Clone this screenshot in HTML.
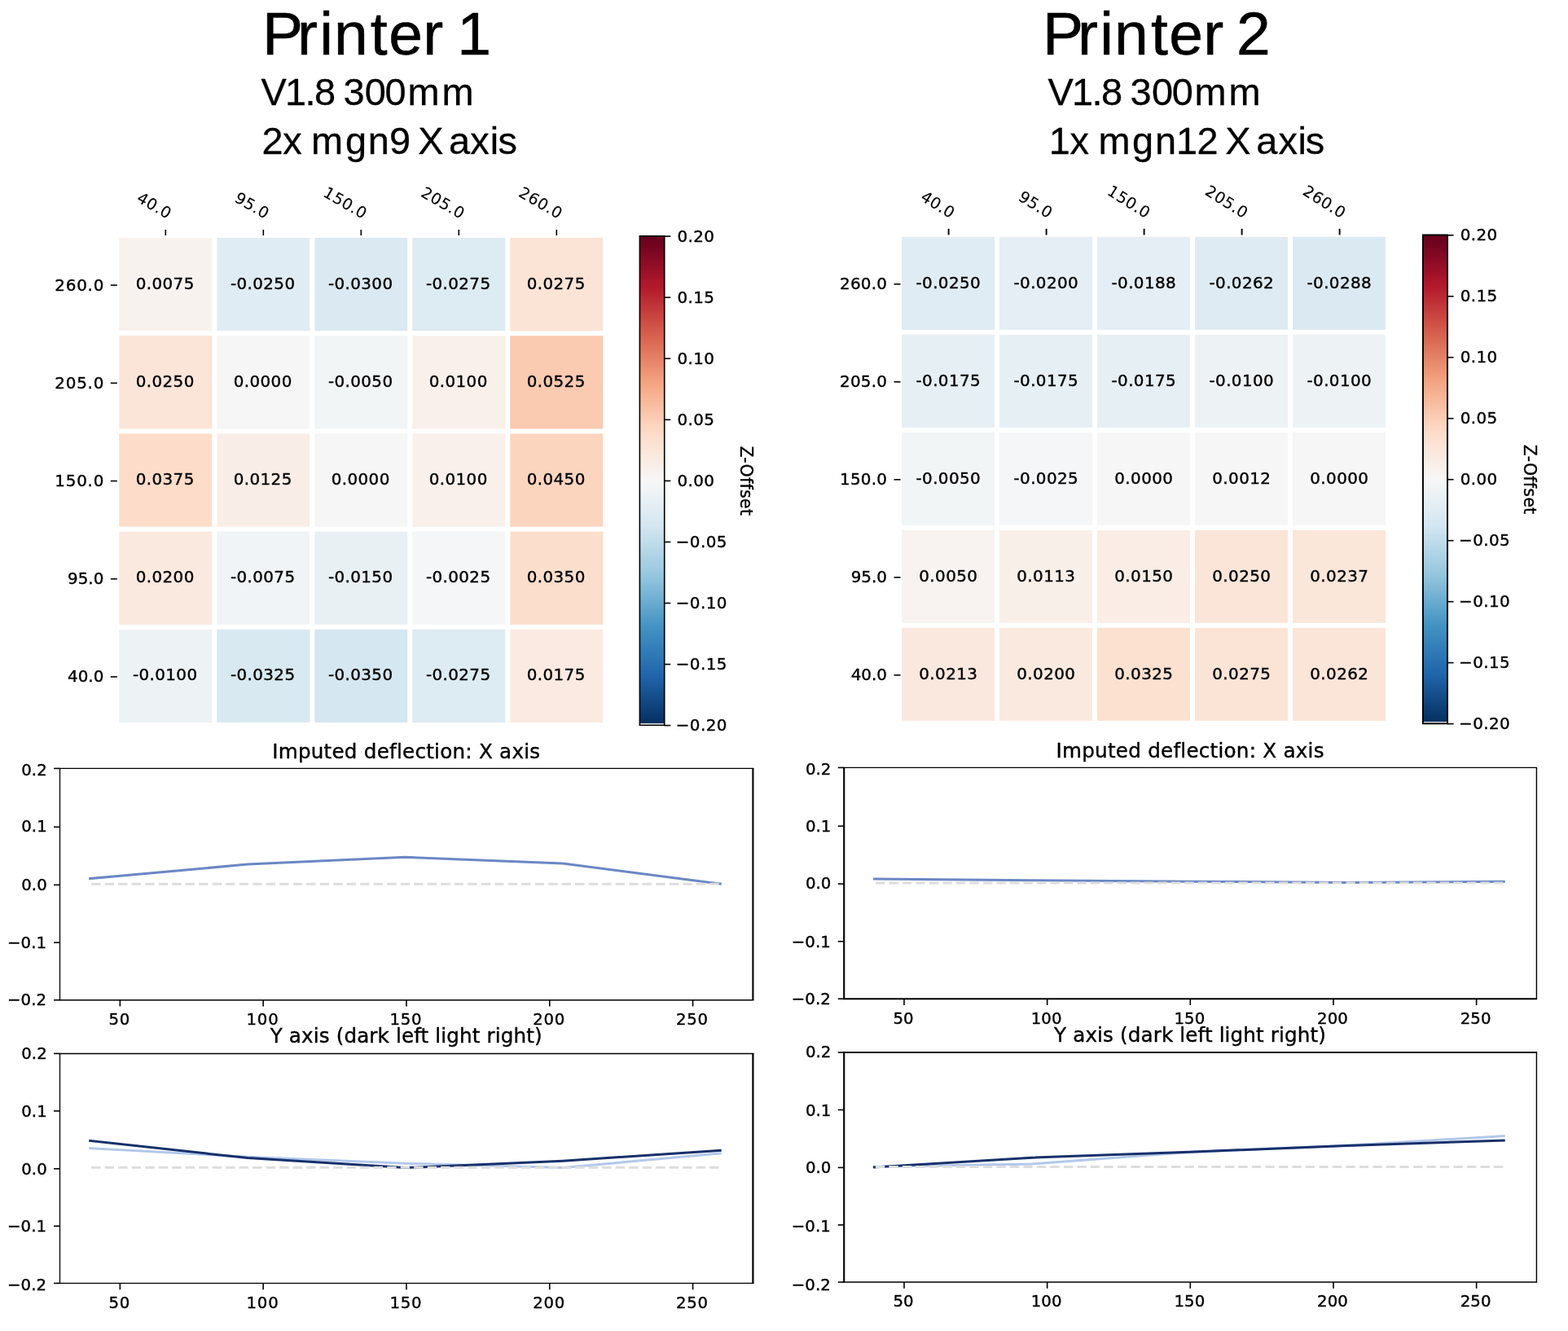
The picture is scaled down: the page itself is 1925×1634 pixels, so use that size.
<!DOCTYPE html>
<html lang="en"><head><meta charset="utf-8"><title>Printer bed mesh comparison</title>
<style>html,body{margin:0;padding:0;background:#fff}body{width:1925px;height:1634px;overflow:hidden}svg{display:block}text{fill:#000}.h{font-family:"Liberation Sans", "DejaVu Sans", sans-serif;stroke:#000;stroke-linejoin:round}.tk{stroke:#000;stroke-width:1.6;fill:none}.sp{stroke:#000;fill:none}.yt{font-family:"DejaVu Sans", "Liberation Sans", sans-serif;font-size:19.9px;letter-spacing:0.75px;stroke:#000;stroke-width:0.4px;stroke-linejoin:round}.yu{font-family:"DejaVu Sans", "Liberation Sans", sans-serif;font-size:19.9px;letter-spacing:0.25px;stroke:#000;stroke-width:0.4px;stroke-linejoin:round}.ys{font-family:"DejaVu Sans", "Liberation Sans", sans-serif;font-size:19.9px;letter-spacing:0px;stroke:#000;stroke-width:0.4px;stroke-linejoin:round}.xt{font-family:"DejaVu Sans", "Liberation Sans", sans-serif;font-size:19.2px;letter-spacing:0.6px;stroke:#000;stroke-width:0.1px;stroke-linejoin:round}.an{font-family:"DejaVu Sans", "Liberation Sans", sans-serif;font-size:19.9px;letter-spacing:0.4px;stroke:#000;stroke-width:0.4px;stroke-linejoin:round}.cb{font-family:"DejaVu Sans", "Liberation Sans", sans-serif;font-size:19.9px;letter-spacing:0.4px;stroke:#000;stroke-width:0.4px;stroke-linejoin:round}.cl{font-family:"DejaVu Sans", "Liberation Sans", sans-serif;font-size:20.4px;letter-spacing:0.3px;stroke:#000;stroke-width:0.4px;stroke-linejoin:round}.lt{font-family:"DejaVu Sans", "Liberation Sans", sans-serif;font-size:19.7px;letter-spacing:0.1px;stroke:#000;stroke-width:0.4px;stroke-linejoin:round}.lx{font-family:"DejaVu Sans", "Liberation Sans", sans-serif;font-size:19.7px;letter-spacing:0.75px;stroke:#000;stroke-width:0.4px;stroke-linejoin:round}.ly{font-family:"DejaVu Sans", "Liberation Sans", sans-serif;font-size:19.7px;letter-spacing:0.1px;stroke:#000;stroke-width:0.4px;stroke-linejoin:round}.tt{font-family:"DejaVu Sans", "Liberation Sans", sans-serif;font-size:24.6px;letter-spacing:0.25px;stroke:#000;stroke-width:0.4px;stroke-linejoin:round}.tu{font-family:"DejaVu Sans", "Liberation Sans", sans-serif;font-size:24.6px;letter-spacing:0.14px;stroke:#000;stroke-width:0.4px;stroke-linejoin:round}</style></head><body>
<svg width="1925" height="1634" viewBox="0 0 1925 1634" role="img" aria-label="Printer 1 and Printer 2 bed mesh comparison">
<defs><linearGradient id="rdbu" x1="0" y1="0" x2="0" y2="1"><stop offset="0%" stop-color="#67001f"/><stop offset="1.56%" stop-color="#700320"/><stop offset="3.12%" stop-color="#7c0722"/><stop offset="4.69%" stop-color="#870a24"/><stop offset="6.25%" stop-color="#930e26"/><stop offset="7.81%" stop-color="#9f1228"/><stop offset="9.38%" stop-color="#ab162a"/><stop offset="10.94%" stop-color="#b41c2d"/><stop offset="12.5%" stop-color="#ba2832"/><stop offset="14.06%" stop-color="#bf3338"/><stop offset="15.62%" stop-color="#c53e3d"/><stop offset="17.19%" stop-color="#cb4942"/><stop offset="18.75%" stop-color="#d05548"/><stop offset="20.31%" stop-color="#d6604d"/><stop offset="21.88%" stop-color="#db6b55"/><stop offset="23.44%" stop-color="#df765e"/><stop offset="25%" stop-color="#e48066"/><stop offset="26.56%" stop-color="#e98b6e"/><stop offset="28.12%" stop-color="#ee9677"/><stop offset="29.69%" stop-color="#f2a17f"/><stop offset="31.25%" stop-color="#f5aa89"/><stop offset="32.81%" stop-color="#f6b394"/><stop offset="34.38%" stop-color="#f8bb9e"/><stop offset="35.94%" stop-color="#f9c4a9"/><stop offset="37.5%" stop-color="#fbccb4"/><stop offset="39.06%" stop-color="#fcd5bf"/><stop offset="40.62%" stop-color="#fddcc9"/><stop offset="42.19%" stop-color="#fce0d0"/><stop offset="43.75%" stop-color="#fbe5d8"/><stop offset="45.31%" stop-color="#fae9df"/><stop offset="46.88%" stop-color="#f9eee7"/><stop offset="48.44%" stop-color="#f8f2ef"/><stop offset="50%" stop-color="#f7f6f6"/><stop offset="51.56%" stop-color="#f2f5f6"/><stop offset="53.12%" stop-color="#ecf2f5"/><stop offset="54.69%" stop-color="#e6eff4"/><stop offset="56.25%" stop-color="#e0ecf3"/><stop offset="57.81%" stop-color="#dae9f2"/><stop offset="59.38%" stop-color="#d4e6f1"/><stop offset="60.94%" stop-color="#cce2ef"/><stop offset="62.5%" stop-color="#c2ddec"/><stop offset="64.06%" stop-color="#b8d8e9"/><stop offset="65.62%" stop-color="#aed3e6"/><stop offset="67.19%" stop-color="#a5cee3"/><stop offset="68.75%" stop-color="#9bc9e0"/><stop offset="70.31%" stop-color="#90c4dd"/><stop offset="71.88%" stop-color="#84bcd9"/><stop offset="73.44%" stop-color="#78b4d5"/><stop offset="75%" stop-color="#6bacd1"/><stop offset="76.56%" stop-color="#5fa5cd"/><stop offset="78.12%" stop-color="#529dc8"/><stop offset="79.69%" stop-color="#4695c4"/><stop offset="81.25%" stop-color="#3f8ec0"/><stop offset="82.81%" stop-color="#3a87bd"/><stop offset="84.38%" stop-color="#3480b9"/><stop offset="85.94%" stop-color="#2f79b5"/><stop offset="87.5%" stop-color="#2a71b2"/><stop offset="89.06%" stop-color="#246aae"/><stop offset="90.62%" stop-color="#1f63a8"/><stop offset="92.19%" stop-color="#1b5a9c"/><stop offset="93.75%" stop-color="#175290"/><stop offset="95.31%" stop-color="#124984"/><stop offset="96.88%" stop-color="#0e4179"/><stop offset="98.44%" stop-color="#09386d"/><stop offset="100%" stop-color="#053061"/></linearGradient>
</defs>
<rect width="1925" height="1634" fill="#fff"/>
<g id="printer1">
<text class="h" x="321.99 364.99 392.19 409.94 454.84 477.22 519.19 544.17 561.29" y="67" font-size="75" stroke-width="0.6">Printer 1</text>
<text class="h" x="320.51 350.02 374.43 386.01 412.09 421.45 447.81 472.61 500.5 542.5" y="129" font-size="46.9" stroke-width="0.3">V1.8 300mm</text>
<text class="h" x="321.46 347.16 370.61 382.1 423.93 451.67 478.07 504.15 513.37 544.66 551.11 577.36 601.7 611.62" y="188.9" font-size="46.9" stroke-width="0.3">2x mgn9 X axis</text>
<g class="chart">
<rect x="146.3" y="292" width="114" height="114.2" fill="#f8f2ef"/>
<rect x="266.3" y="292" width="114" height="114.2" fill="#e0ecf3"/>
<rect x="386.3" y="292" width="114" height="114.2" fill="#dae9f2"/>
<rect x="506.3" y="292" width="114" height="114.2" fill="#ddebf2"/>
<rect x="626.3" y="292" width="114" height="114.2" fill="#fbe4d6"/>
<rect x="146.3" y="412.2" width="114" height="114.2" fill="#fbe5d8"/>
<rect x="266.3" y="412.2" width="114" height="114.2" fill="#f7f6f6"/>
<rect x="386.3" y="412.2" width="114" height="114.2" fill="#f2f5f6"/>
<rect x="506.3" y="412.2" width="114" height="114.2" fill="#f9f0eb"/>
<rect x="626.3" y="412.2" width="114" height="114.2" fill="#facab1"/>
<rect x="146.3" y="532.4" width="114" height="114.2" fill="#fddcc9"/>
<rect x="266.3" y="532.4" width="114" height="114.2" fill="#f9eee7"/>
<rect x="386.3" y="532.4" width="114" height="114.2" fill="#f7f6f6"/>
<rect x="506.3" y="532.4" width="114" height="114.2" fill="#f9f0eb"/>
<rect x="626.3" y="532.4" width="114" height="114.2" fill="#fcd5bf"/>
<rect x="146.3" y="652.6" width="114" height="114.2" fill="#fae9df"/>
<rect x="266.3" y="652.6" width="114" height="114.2" fill="#f0f4f6"/>
<rect x="386.3" y="652.6" width="114" height="114.2" fill="#e9f0f4"/>
<rect x="506.3" y="652.6" width="114" height="114.2" fill="#f5f6f7"/>
<rect x="626.3" y="652.6" width="114" height="114.2" fill="#fcdecd"/>
<rect x="146.3" y="772.8" width="114" height="114.2" fill="#edf2f5"/>
<rect x="266.3" y="772.8" width="114" height="114.2" fill="#d8e9f1"/>
<rect x="386.3" y="772.8" width="114" height="114.2" fill="#d5e7f1"/>
<rect x="506.3" y="772.8" width="114" height="114.2" fill="#ddebf2"/>
<rect x="626.3" y="772.8" width="114" height="114.2" fill="#faeae1"/>
<path class="tk" style="stroke-width:1.6" d="M203.3 282V289"/>
<path class="tk" d="M135.8 350.1H143.8"/>
<path class="tk" style="stroke-width:1.6" d="M323.3 282V289"/>
<path class="tk" d="M135.8 470.3H143.8"/>
<path class="tk" style="stroke-width:1.6" d="M443.3 282V289"/>
<path class="tk" d="M135.8 590.5H143.8"/>
<path class="tk" style="stroke-width:1.6" d="M563.3 282V289"/>
<path class="tk" d="M135.8 710.7H143.8"/>
<path class="tk" style="stroke-width:1.6" d="M683.3 282V289"/>
<path class="tk" d="M135.8 830.9H143.8"/>
<text class="xt" text-anchor="end" transform="translate(203,272.9) rotate(30)" x="0.6" y="-4.53">40.0</text>
<text class="xt" text-anchor="end" transform="translate(323,272.9) rotate(30)" x="0.6" y="-4.53">95.0</text>
<text class="xt" text-anchor="end" transform="translate(443,272.9) rotate(30)" x="0.6" y="-4.53">150.0</text>
<text class="xt" text-anchor="end" transform="translate(563,272.9) rotate(30)" x="0.6" y="-4.53">205.0</text>
<text class="xt" text-anchor="end" transform="translate(683,272.9) rotate(30)" x="0.6" y="-4.53">260.0</text>
<text class="yt" text-anchor="end" x="128.05" y="356.65">260.0</text>
<text class="yt" text-anchor="end" x="128.05" y="476.85">205.0</text>
<text class="yt" text-anchor="end" x="128.05" y="597.05">150.0</text>
<text class="ys" text-anchor="end" x="127.3" y="717.25">95.0</text>
<text class="ys" text-anchor="end" x="127.3" y="837.45">40.0</text>
<text class="an" text-anchor="middle" x="202.7" y="354.55">0.0075</text>
<text class="an" text-anchor="middle" x="322.7" y="354.55">-0.0250</text>
<text class="an" text-anchor="middle" x="442.7" y="354.55">-0.0300</text>
<text class="an" text-anchor="middle" x="562.7" y="354.55">-0.0275</text>
<text class="an" text-anchor="middle" x="682.7" y="354.55">0.0275</text>
<text class="an" text-anchor="middle" x="202.7" y="474.75">0.0250</text>
<text class="an" text-anchor="middle" x="322.7" y="474.75">0.0000</text>
<text class="an" text-anchor="middle" x="442.7" y="474.75">-0.0050</text>
<text class="an" text-anchor="middle" x="562.7" y="474.75">0.0100</text>
<text class="an" text-anchor="middle" x="682.7" y="474.75">0.0525</text>
<text class="an" text-anchor="middle" x="202.7" y="594.95">0.0375</text>
<text class="an" text-anchor="middle" x="322.7" y="594.95">0.0125</text>
<text class="an" text-anchor="middle" x="442.7" y="594.95">0.0000</text>
<text class="an" text-anchor="middle" x="562.7" y="594.95">0.0100</text>
<text class="an" text-anchor="middle" x="682.7" y="594.95">0.0450</text>
<text class="an" text-anchor="middle" x="202.7" y="715.15">0.0200</text>
<text class="an" text-anchor="middle" x="322.7" y="715.15">-0.0075</text>
<text class="an" text-anchor="middle" x="442.7" y="715.15">-0.0150</text>
<text class="an" text-anchor="middle" x="562.7" y="715.15">-0.0025</text>
<text class="an" text-anchor="middle" x="682.7" y="715.15">0.0350</text>
<text class="an" text-anchor="middle" x="202.7" y="835.35">-0.0100</text>
<text class="an" text-anchor="middle" x="322.7" y="835.35">-0.0325</text>
<text class="an" text-anchor="middle" x="442.7" y="835.35">-0.0350</text>
<text class="an" text-anchor="middle" x="562.7" y="835.35">-0.0275</text>
<text class="an" text-anchor="middle" x="682.7" y="835.35">0.0175</text>
<rect x="785.4" y="289.8" width="30.3" height="598.3" fill="url(#rdbu)"/>
<rect x="785.4" y="289.8" width="30.3" height="600.5" fill="none" stroke="#000" stroke-width="1.6"/>
<path class="tk" d="M815.7 290.1H823.3"/>
<text class="cb" x="831.4" y="296.65">0.20</text>
<path class="tk" d="M815.7 365.16H823.3"/>
<text class="cb" x="831.4" y="371.72">0.15</text>
<path class="tk" d="M815.7 440.23H823.3"/>
<text class="cb" x="831.4" y="446.78">0.10</text>
<path class="tk" d="M815.7 515.29H823.3"/>
<text class="cb" x="831.4" y="521.84">0.05</text>
<path class="tk" d="M815.7 590.35H823.3"/>
<text class="cb" x="831.4" y="596.9">0.00</text>
<path class="tk" d="M815.7 665.41H823.3"/>
<text class="cb" x="829.8" y="671.97">−0.05</text>
<path class="tk" d="M815.7 740.47H823.3"/>
<text class="cb" x="829.8" y="747.03">−0.10</text>
<path class="tk" d="M815.7 815.54H823.3"/>
<text class="cb" x="829.8" y="822.09">−0.15</text>
<path class="tk" d="M815.7 890.6H823.3"/>
<text class="cb" x="829.8" y="897.15">−0.20</text>
<text class="cl" text-anchor="middle" transform="translate(909.2,590.05) rotate(90)" x="0.15" y="0">Z-Offset</text>
<polyline points="110.68,1078.58 304.06,1061.1 497.45,1052.36 690.84,1059.96 884.22,1084.98" fill="none" stroke="#6b87c4" stroke-width="3" stroke-linejoin="round" stroke-linecap="square"/>
<path d="M112.18 1085.35H885.72" fill="none" stroke="#dddddd" stroke-width="3" stroke-dasharray="11.4 5.1"/>
<path class="sp" stroke-width="1.3" d="M72.85 943.4H925.45"/>
<path class="sp" stroke-width="1.4" d="M72.85 1227.7H925.45"/>
<path class="sp" stroke-width="1.3" d="M73.5 943.4V1227.7"/>
<path class="sp" stroke-width="2.1" d="M924.4 943.4V1227.7"/>
<path class="tk" d="M147.34 1227.7V1235.5"/>
<text class="lx" text-anchor="middle" x="146.71" y="1258.08">50</text>
<path class="tk" d="M323.14 1227.7V1235.5"/>
<text class="lx" text-anchor="middle" x="322.52" y="1258.08">100</text>
<path class="tk" d="M498.95 1227.7V1235.5"/>
<text class="lx" text-anchor="middle" x="498.32" y="1258.08">150</text>
<path class="tk" d="M674.76 1227.7V1235.5"/>
<text class="lx" text-anchor="middle" x="674.13" y="1258.08">200</text>
<path class="tk" d="M850.56 1227.7V1235.5"/>
<text class="lx" text-anchor="middle" x="849.94" y="1258.08">250</text>
<path class="tk" d="M66 943.4H73.5"/>
<text class="lt" text-anchor="end" x="57.8" y="951.68">0.2</text>
<path class="tk" d="M66 1015.27H73.5"/>
<text class="lt" text-anchor="end" x="57.8" y="1021.46">0.1</text>
<path class="tk" d="M66 1086.35H73.5"/>
<text class="lt" text-anchor="end" x="57.8" y="1093.03">0.0</text>
<path class="tk" d="M66 1157.12H73.5"/>
<text class="lt" text-anchor="end" x="57.2" y="1163.61">−0.1</text>
<path class="tk" d="M66 1227.7H73.5"/>
<text class="lt" text-anchor="end" x="57.2" y="1233.78">−0.2</text>
<text class="tt" text-anchor="middle" x="498.77" y="930.6">Imputed deflection: X axis</text>
<polyline points="110.68,1409.63 304.06,1420.2 497.45,1428.31 690.84,1433.6 884.22,1415.97" fill="none" stroke="#b3c8ea" stroke-width="3" stroke-linejoin="round" stroke-linecap="square"/>
<polyline points="110.68,1400.46 304.06,1421.61 497.45,1433.6 690.84,1425.14 884.22,1412.45" fill="none" stroke="#17306b" stroke-width="3" stroke-linejoin="round" stroke-linecap="square"/>
<path d="M112.18 1433.3H885.72" fill="none" stroke="#dddddd" stroke-width="3" stroke-dasharray="11.4 5.1"/>
<path class="sp" stroke-width="1.5" d="M72.85 1293.4H925.5"/>
<path class="sp" stroke-width="1.3" d="M72.85 1575.4H925.5"/>
<path class="sp" stroke-width="1.3" d="M73.5 1293.4V1575.4"/>
<path class="sp" stroke-width="2.2" d="M924.4 1293.4V1575.4"/>
<path class="tk" d="M147.34 1575.4V1583.2"/>
<text class="lx" text-anchor="middle" x="146.71" y="1605.78">50</text>
<path class="tk" d="M323.14 1575.4V1583.2"/>
<text class="lx" text-anchor="middle" x="322.52" y="1605.78">100</text>
<path class="tk" d="M498.95 1575.4V1583.2"/>
<text class="lx" text-anchor="middle" x="498.32" y="1605.78">150</text>
<path class="tk" d="M674.76 1575.4V1583.2"/>
<text class="lx" text-anchor="middle" x="674.13" y="1605.78">200</text>
<path class="tk" d="M850.56 1575.4V1583.2"/>
<text class="lx" text-anchor="middle" x="849.94" y="1605.78">250</text>
<path class="tk" d="M66 1293.4H73.5"/>
<text class="lt" text-anchor="end" x="57.8" y="1299.83">0.2</text>
<path class="tk" d="M66 1363.9H73.5"/>
<text class="lt" text-anchor="end" x="57.8" y="1371.08">0.1</text>
<path class="tk" d="M66 1434.8H73.5"/>
<text class="lt" text-anchor="end" x="57.8" y="1441.58">0.0</text>
<path class="tk" d="M66 1505.2H73.5"/>
<text class="lt" text-anchor="end" x="57.2" y="1512.48">−0.1</text>
<path class="tk" d="M66 1575.4H73.5"/>
<text class="lt" text-anchor="end" x="57.2" y="1583.98">−0.2</text>
<text class="tu" text-anchor="middle" x="498.72" y="1280.3">Y axis (dark left light right)</text>
</g></g>
<g id="printer2">
<text class="h" x="1280.09 1323.09 1350.29 1368.04 1412.94 1435.32 1477.29 1502.27 1517.94" y="67" font-size="75" stroke-width="0.6">Printer 2</text>
<text class="h" x="1286.61 1316.12 1340.53 1352.11 1378.19 1387.55 1413.91 1438.71 1466.6 1508.6" y="129" font-size="46.9" stroke-width="0.3">V1.8 300mm</text>
<text class="h" x="1287.82 1313.41 1336.86 1348.4 1389.88 1417.92 1444.02 1469.56 1495.64 1504.27 1535.56 1542.31 1569.41 1593.45 1602.67" y="188.9" font-size="46.9" stroke-width="0.3">1x mgn12 X axis</text>
<g class="chart">
<rect x="1107" y="290.8" width="114" height="114" fill="#e0ecf3"/>
<rect x="1227" y="290.8" width="114" height="114" fill="#e4eef4"/>
<rect x="1347" y="290.8" width="114" height="114" fill="#e4eef4"/>
<rect x="1467" y="290.8" width="114" height="114" fill="#deebf2"/>
<rect x="1587" y="290.8" width="114" height="114" fill="#dbeaf2"/>
<rect x="1107" y="410.8" width="114" height="114" fill="#e6eff4"/>
<rect x="1227" y="410.8" width="114" height="114" fill="#e6eff4"/>
<rect x="1347" y="410.8" width="114" height="114" fill="#e6eff4"/>
<rect x="1467" y="410.8" width="114" height="114" fill="#edf2f5"/>
<rect x="1587" y="410.8" width="114" height="114" fill="#edf2f5"/>
<rect x="1107" y="530.8" width="114" height="114" fill="#f2f5f6"/>
<rect x="1227" y="530.8" width="114" height="114" fill="#f5f6f7"/>
<rect x="1347" y="530.8" width="114" height="114" fill="#f7f6f6"/>
<rect x="1467" y="530.8" width="114" height="114" fill="#f7f6f6"/>
<rect x="1587" y="530.8" width="114" height="114" fill="#f7f6f6"/>
<rect x="1107" y="650.8" width="114" height="114" fill="#f8f3f0"/>
<rect x="1227" y="650.8" width="114" height="114" fill="#f9efe9"/>
<rect x="1347" y="650.8" width="114" height="114" fill="#f9ede5"/>
<rect x="1467" y="650.8" width="114" height="114" fill="#fbe5d8"/>
<rect x="1587" y="650.8" width="114" height="114" fill="#fbe6da"/>
<rect x="1107" y="770.8" width="114" height="114" fill="#fae8de"/>
<rect x="1227" y="770.8" width="114" height="114" fill="#fae9df"/>
<rect x="1347" y="770.8" width="114" height="114" fill="#fce0d0"/>
<rect x="1467" y="770.8" width="114" height="114" fill="#fbe4d6"/>
<rect x="1587" y="770.8" width="114" height="114" fill="#fbe5d8"/>
<path class="tk" style="stroke-width:1.9" d="M1164.6 280.8V288.4"/>
<path class="tk" d="M1097.5 348.8H1105.5"/>
<path class="tk" style="stroke-width:1.9" d="M1284.6 280.8V288.4"/>
<path class="tk" d="M1097.5 468.8H1105.5"/>
<path class="tk" style="stroke-width:1.9" d="M1404.6 280.8V288.4"/>
<path class="tk" d="M1097.5 588.8H1105.5"/>
<path class="tk" style="stroke-width:1.9" d="M1524.6 280.8V288.4"/>
<path class="tk" d="M1097.5 708.8H1105.5"/>
<path class="tk" style="stroke-width:1.9" d="M1644.6 280.8V288.4"/>
<path class="tk" d="M1097.5 828.8H1105.5"/>
<text class="xt" text-anchor="end" transform="translate(1164.3,272.3) rotate(32)" x="0.6" y="-4.53">40.0</text>
<text class="xt" text-anchor="end" transform="translate(1284.3,272.3) rotate(32)" x="0.6" y="-4.53">95.0</text>
<text class="xt" text-anchor="end" transform="translate(1404.3,272.3) rotate(32)" x="0.6" y="-4.53">150.0</text>
<text class="xt" text-anchor="end" transform="translate(1524.3,272.3) rotate(32)" x="0.6" y="-4.53">205.0</text>
<text class="xt" text-anchor="end" transform="translate(1644.3,272.3) rotate(32)" x="0.6" y="-4.53">260.0</text>
<text class="yu" text-anchor="end" x="1089.25" y="355.35">260.0</text>
<text class="yu" text-anchor="end" x="1089.25" y="475.35">205.0</text>
<text class="yu" text-anchor="end" x="1089.25" y="595.35">150.0</text>
<text class="ys" text-anchor="end" x="1089" y="715.35">95.0</text>
<text class="ys" text-anchor="end" x="1089" y="835.35">40.0</text>
<text class="an" text-anchor="middle" x="1164.3" y="353.85">-0.0250</text>
<text class="an" text-anchor="middle" x="1284.3" y="353.85">-0.0200</text>
<text class="an" text-anchor="middle" x="1404.3" y="353.85">-0.0188</text>
<text class="an" text-anchor="middle" x="1524.3" y="353.85">-0.0262</text>
<text class="an" text-anchor="middle" x="1644.3" y="353.85">-0.0288</text>
<text class="an" text-anchor="middle" x="1164.3" y="473.85">-0.0175</text>
<text class="an" text-anchor="middle" x="1284.3" y="473.85">-0.0175</text>
<text class="an" text-anchor="middle" x="1404.3" y="473.85">-0.0175</text>
<text class="an" text-anchor="middle" x="1524.3" y="473.85">-0.0100</text>
<text class="an" text-anchor="middle" x="1644.3" y="473.85">-0.0100</text>
<text class="an" text-anchor="middle" x="1164.3" y="593.85">-0.0050</text>
<text class="an" text-anchor="middle" x="1284.3" y="593.85">-0.0025</text>
<text class="an" text-anchor="middle" x="1404.3" y="593.85">0.0000</text>
<text class="an" text-anchor="middle" x="1524.3" y="593.85">0.0012</text>
<text class="an" text-anchor="middle" x="1644.3" y="593.85">0.0000</text>
<text class="an" text-anchor="middle" x="1164.3" y="713.85">0.0050</text>
<text class="an" text-anchor="middle" x="1284.3" y="713.85">0.0113</text>
<text class="an" text-anchor="middle" x="1404.3" y="713.85">0.0150</text>
<text class="an" text-anchor="middle" x="1524.3" y="713.85">0.0250</text>
<text class="an" text-anchor="middle" x="1644.3" y="713.85">0.0237</text>
<text class="an" text-anchor="middle" x="1164.3" y="833.85">0.0213</text>
<text class="an" text-anchor="middle" x="1284.3" y="833.85">0.0200</text>
<text class="an" text-anchor="middle" x="1404.3" y="833.85">0.0325</text>
<text class="an" text-anchor="middle" x="1524.3" y="833.85">0.0275</text>
<text class="an" text-anchor="middle" x="1644.3" y="833.85">0.0262</text>
<rect x="1746.9" y="288.5" width="30.1" height="597.6" fill="url(#rdbu)"/>
<rect x="1746.9" y="288.5" width="30.1" height="599.8" fill="none" stroke="#000" stroke-width="2.0"/>
<path class="tk" d="M1777 288.8H1784.6"/>
<text class="cb" x="1792.7" y="295.05">0.20</text>
<path class="tk" d="M1777 363.78H1784.6"/>
<text class="cb" x="1792.7" y="370.03">0.15</text>
<path class="tk" d="M1777 438.75H1784.6"/>
<text class="cb" x="1792.7" y="445">0.10</text>
<path class="tk" d="M1777 513.72H1784.6"/>
<text class="cb" x="1792.7" y="519.98">0.05</text>
<path class="tk" d="M1777 588.7H1784.6"/>
<text class="cb" x="1792.7" y="594.95">0.00</text>
<path class="tk" d="M1777 663.67H1784.6"/>
<text class="cb" x="1791.1" y="669.93">−0.05</text>
<path class="tk" d="M1777 738.65H1784.6"/>
<text class="cb" x="1791.1" y="744.9">−0.10</text>
<path class="tk" d="M1777 813.62H1784.6"/>
<text class="cb" x="1791.1" y="819.88">−0.15</text>
<path class="tk" d="M1777 888.6H1784.6"/>
<text class="cb" x="1791.1" y="894.85">−0.20</text>
<text class="cl" text-anchor="middle" transform="translate(1870.5,588.4) rotate(90)" x="0.15" y="0">Z-Offset</text>
<polyline points="1073.35,1078.98 1266.57,1080.75 1459.8,1082.17 1653.03,1083.45 1846.25,1082.31" fill="none" stroke="#6b87c4" stroke-width="3" stroke-linejoin="round" stroke-linecap="square"/>
<path d="M1074.85 1084.1H1847.75" fill="none" stroke="#dddddd" stroke-width="3" stroke-dasharray="11.4 5.1"/>
<path class="sp" stroke-width="1.3" d="M1035.15 942.4H1887.1"/>
<path class="sp" stroke-width="2.0" d="M1035.15 1226.2H1887.1"/>
<path class="sp" stroke-width="2.1" d="M1036.2 942.4V1226.2"/>
<path class="sp" stroke-width="1.4" d="M1886.4 942.4V1226.2"/>
<path class="tk" d="M1109.98 1226.2V1234"/>
<text class="ly" text-anchor="middle" x="1109.03" y="1256.58">50</text>
<path class="tk" d="M1285.64 1226.2V1234"/>
<text class="ly" text-anchor="middle" x="1284.69" y="1256.58">100</text>
<path class="tk" d="M1461.3 1226.2V1234"/>
<text class="ly" text-anchor="middle" x="1460.35" y="1256.58">150</text>
<path class="tk" d="M1636.96 1226.2V1234"/>
<text class="ly" text-anchor="middle" x="1636.01" y="1256.58">200</text>
<path class="tk" d="M1812.62 1226.2V1234"/>
<text class="ly" text-anchor="middle" x="1811.67" y="1256.58">250</text>
<path class="tk" d="M1028.7 942.4H1036.2"/>
<text class="lt" text-anchor="end" x="1020.5" y="950.68">0.2</text>
<path class="tk" d="M1028.7 1014.15H1036.2"/>
<text class="lt" text-anchor="end" x="1020.5" y="1020.83">0.1</text>
<path class="tk" d="M1028.7 1085.1H1036.2"/>
<text class="lt" text-anchor="end" x="1020.5" y="1091.28">0.0</text>
<path class="tk" d="M1028.7 1155.75H1036.2"/>
<text class="lt" text-anchor="end" x="1019.9" y="1162.73">−0.1</text>
<path class="tk" d="M1028.7 1226.2H1036.2"/>
<text class="lt" text-anchor="end" x="1019.9" y="1233.48">−0.2</text>
<text class="tt" text-anchor="middle" x="1461.13" y="929.6">Imputed deflection: X axis</text>
<polyline points="1073.35,1432.2 1266.57,1429.02 1459.8,1414.43 1653.03,1406.25 1846.25,1394.48" fill="none" stroke="#b3c8ea" stroke-width="3" stroke-linejoin="round" stroke-linecap="square"/>
<polyline points="1073.35,1432.9 1266.57,1421.2 1459.8,1414.22 1653.03,1406.46 1846.25,1400.12" fill="none" stroke="#17306b" stroke-width="3" stroke-linejoin="round" stroke-linecap="square"/>
<path d="M1074.85 1432.6H1847.75" fill="none" stroke="#dddddd" stroke-width="3" stroke-dasharray="11.4 5.1"/>
<path class="sp" stroke-width="2.1" d="M1035.15 1292H1887.1"/>
<path class="sp" stroke-width="1.3" d="M1035.15 1574H1887.1"/>
<path class="sp" stroke-width="2.1" d="M1036.2 1292V1574"/>
<path class="sp" stroke-width="1.4" d="M1886.4 1292V1574"/>
<path class="tk" d="M1109.98 1574V1581.8"/>
<text class="ly" text-anchor="middle" x="1109.03" y="1604.38">50</text>
<path class="tk" d="M1285.64 1574V1581.8"/>
<text class="ly" text-anchor="middle" x="1284.69" y="1604.38">100</text>
<path class="tk" d="M1461.3 1574V1581.8"/>
<text class="ly" text-anchor="middle" x="1460.35" y="1604.38">150</text>
<path class="tk" d="M1636.96 1574V1581.8"/>
<text class="ly" text-anchor="middle" x="1636.01" y="1604.38">200</text>
<path class="tk" d="M1812.62 1574V1581.8"/>
<text class="ly" text-anchor="middle" x="1811.67" y="1604.38">250</text>
<path class="tk" d="M1028.7 1292H1036.2"/>
<text class="lt" text-anchor="end" x="1020.5" y="1298.43">0.2</text>
<path class="tk" d="M1028.7 1362.5H1036.2"/>
<text class="lt" text-anchor="end" x="1020.5" y="1369.68">0.1</text>
<path class="tk" d="M1028.7 1433.4H1036.2"/>
<text class="lt" text-anchor="end" x="1020.5" y="1440.18">0.0</text>
<path class="tk" d="M1028.7 1503.8H1036.2"/>
<text class="lt" text-anchor="end" x="1019.9" y="1511.58">−0.1</text>
<path class="tk" d="M1028.7 1574H1036.2"/>
<text class="lt" text-anchor="end" x="1019.9" y="1583.58">−0.2</text>
<text class="tu" text-anchor="middle" x="1461.07" y="1278.9">Y axis (dark left light right)</text>
</g></g>
</svg></body></html>
